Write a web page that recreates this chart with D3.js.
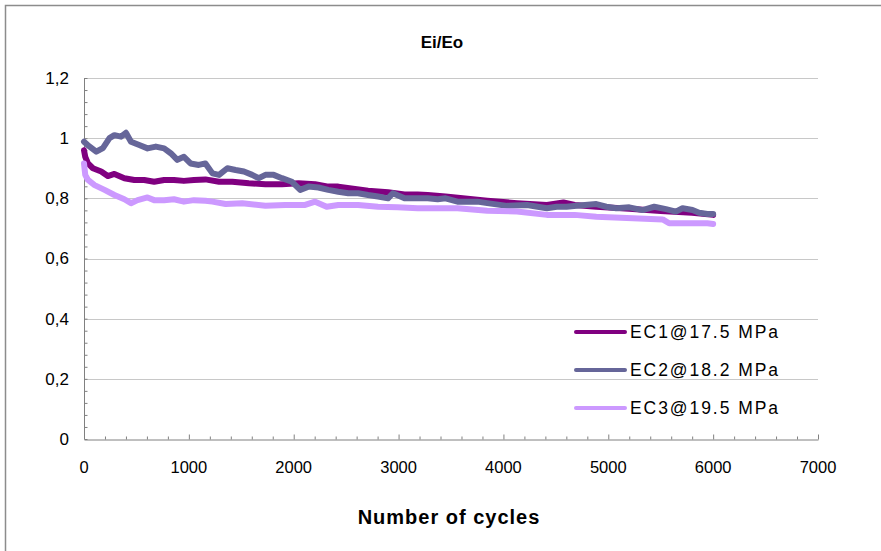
<!DOCTYPE html>
<html>
<head>
<meta charset="utf-8">
<script src="https://cdn.jsdelivr.net/npm/d3@7"></script>
<style>
  html, body { margin: 0; padding: 0; background: #fff; }
  svg { display: block; }
  text { font-family: "Liberation Sans", Arial, sans-serif; fill: #000; }
</style>
</head>
<body>
<svg id="chart" width="881" height="551"></svg>
<script>
// ---- data ----
const seriesNames = ["EC1@17.5 MPa", "EC2@18.2 MPa", "EC3@19.5 MPa"];
const seriesColors = ["#800080", "#666699", "#CC99FF"];

const ec1Cycles = [0, 12, 38, 85, 164, 227, 290, 385, 480, 574, 669, 764, 858, 953, 1048, 1158, 1288, 1414, 1572, 1730, 1888, 2045, 2204, 2330, 2425, 2709, 2900, 3057, 3183, 3278, 3448, 3846, 4130, 4414, 4572, 4680, 4886, 5200, 5500, 5800, 6000];
const ec1Values = [0.96, 0.938, 0.916, 0.90, 0.889, 0.874, 0.881, 0.867, 0.861, 0.861, 0.855, 0.861, 0.861, 0.858, 0.861, 0.863, 0.855, 0.855, 0.85, 0.847, 0.847, 0.85, 0.847, 0.839, 0.839, 0.825, 0.82, 0.813, 0.813, 0.811, 0.806, 0.792, 0.784, 0.778, 0.786, 0.778, 0.772, 0.765, 0.758, 0.752, 0.745];

const ec2Cycles = [0, 35, 117, 180, 243, 290, 353, 400, 448, 527, 606, 685, 764, 827, 890, 953, 1016, 1095, 1158, 1225, 1288, 1367, 1446, 1525, 1604, 1667, 1730, 1809, 1888, 1983, 2062, 2141, 2236, 2330, 2425, 2520, 2614, 2709, 2804, 2899, 2946, 3057, 3183, 3278, 3373, 3448, 3562, 3751, 3846, 4035, 4225, 4414, 4508, 4602, 4697, 4886, 4981, 5076, 5200, 5327, 5438, 5550, 5645, 5708, 5803, 5866, 5945, 6000];
const ec2Values = [0.988, 0.977, 0.955, 0.967, 1.0, 1.01, 1.005, 1.018, 0.988, 0.977, 0.966, 0.972, 0.966, 0.95, 0.928, 0.938, 0.916, 0.911, 0.916, 0.883, 0.878, 0.90, 0.894, 0.889, 0.878, 0.867, 0.878, 0.878, 0.867, 0.855, 0.828, 0.839, 0.836, 0.828, 0.822, 0.817, 0.817, 0.811, 0.806, 0.80, 0.817, 0.80, 0.80, 0.80, 0.797, 0.80, 0.789, 0.789, 0.784, 0.775, 0.778, 0.767, 0.772, 0.772, 0.775, 0.781, 0.772, 0.767, 0.770, 0.761, 0.772, 0.764, 0.756, 0.767, 0.761, 0.752, 0.748, 0.748];

const ec3Cycles = [0, 12, 38, 101, 196, 290, 385, 448, 511, 606, 669, 764, 858, 953, 1048, 1158, 1225, 1351, 1509, 1730, 1919, 2109, 2204, 2314, 2425, 2614, 2804, 2990, 3183, 3448, 3562, 3846, 4130, 4414, 4680, 4886, 5235, 5519, 5580, 5740, 5945, 6000];
const ec3Values = [0.916, 0.878, 0.861, 0.844, 0.828, 0.811, 0.797, 0.784, 0.794, 0.803, 0.794, 0.794, 0.797, 0.789, 0.794, 0.792, 0.789, 0.781, 0.784, 0.775, 0.778, 0.778, 0.789, 0.772, 0.778, 0.778, 0.772, 0.770, 0.767, 0.767, 0.767, 0.759, 0.756, 0.745, 0.745, 0.739, 0.734, 0.730, 0.717, 0.717, 0.717, 0.715];

const xTicks = [0, 1000, 2000, 3000, 4000, 5000, 6000, 7000];
const yTicks = [0, 0.2, 0.4, 0.6, 0.8, 1, 1.2];
const yTickLabels = ["0", "0,2", "0,4", "0,6", "0,8", "1", "1,2"];
const chartTitle = "Ei/Eo";
const xTitle = "Number of cycles";

// ---- drawing ----
const svg = d3.select("#chart");
const plotLeft = 84, plotRight = 818, plotTop = 78, plotBottom = 439;

const x = d3.scaleLinear().domain([0, 7000]).range([plotLeft, plotRight]);
const y = d3.scaleLinear().domain([0, 1.2]).range([plotBottom, plotTop]);

// outer chart border
svg.append("rect")
  .attr("x", 5.5).attr("y", 5.5).attr("width", 1000).attr("height", 1000)
  .attr("fill", "none").attr("stroke", "#8c8c8c").attr("stroke-width", 1.5);

// gridlines
svg.append("g").selectAll("line")
  .data(yTicks.filter(d => d > 0))
  .join("line")
  .attr("x1", plotLeft).attr("x2", plotRight)
  .attr("y1", d => Math.round(y(d)) + 0.5).attr("y2", d => Math.round(y(d)) + 0.5)
  .attr("stroke", "#c8c8c8").attr("stroke-width", 1);

// y axis (ticks inside)
const yMinor = d3.range(0, 1.2001, 0.04);
const yAxis = d3.axisRight(y).tickValues(yMinor).tickSize(3).tickFormat("");
const gy = svg.append("g").attr("transform", `translate(${plotLeft + 0.5},0)`).call(yAxis);
gy.select(".domain").attr("stroke", "#808080").attr("d", `M0,${plotTop}V${plotBottom}`);
gy.selectAll(".tick line").attr("stroke", "#808080");

// x axis (ticks inside)
const xMinor = d3.range(0, 7001, 200);
const xAxis = d3.axisTop(x).tickValues(xMinor).tickSizeInner(3).tickSizeOuter(0).tickFormat("");
const gx = svg.append("g").attr("transform", `translate(0,${plotBottom + 0.5})`).call(xAxis);
gx.select(".domain").attr("stroke", "#808080");
gx.selectAll(".tick line").attr("stroke", "#808080")
  .attr("y2", d => (d % 1000 === 0 ? -5 : -3));

// tick labels
svg.append("g").selectAll("text")
  .data(yTicks)
  .join("text")
  .attr("x", 69).attr("y", d => y(d))
  .attr("dy", "0.35em").attr("text-anchor", "end")
  .attr("font-size", 17)
  .text((d, i) => yTickLabels[i]);

svg.append("g").selectAll("text")
  .data(xTicks)
  .join("text")
  .attr("x", d => x(d)).attr("y", 467)
  .attr("dy", "0.35em").attr("text-anchor", "middle")
  .attr("font-size", 16.5)
  .text(d => String(d));

// titles
svg.append("text").attr("x", 442).attr("y", 42).attr("dy", "0.35em")
  .attr("text-anchor", "middle").attr("font-size", 17).attr("font-weight", "bold")
  .text(chartTitle);
svg.append("text").attr("x", 449).attr("y", 517).attr("dy", "0.35em")
  .attr("text-anchor", "middle").attr("font-size", 20).attr("font-weight", "bold")
  .attr("letter-spacing", 1)
  .text(xTitle);

// series lines
const series = [
  { cycles: ec1Cycles, values: ec1Values },
  { cycles: ec2Cycles, values: ec2Values },
  { cycles: ec3Cycles, values: ec3Values }
];
const line = d3.line().x(d => x(d[0])).y(d => y(d[1]));
series.forEach((s, i) => {
  const pts = s.cycles.map((c, k) => [c, s.values[k]]);
  svg.append("path")
    .datum(pts)
    .attr("d", line)
    .attr("fill", "none")
    .attr("stroke", seriesColors[i])
    .attr("stroke-width", 6)
    .attr("stroke-linejoin", "round")
    .attr("stroke-linecap", "round");
});

// legend
const legendY = [332, 370, 408];
const lg = svg.append("g");
seriesNames.forEach((name, i) => {
  lg.append("line")
    .attr("x1", 576).attr("x2", 625)
    .attr("y1", legendY[i]).attr("y2", legendY[i])
    .attr("stroke", seriesColors[i]).attr("stroke-width", 4)
    .attr("stroke-linecap", "round");
  lg.append("text")
    .attr("x", 630).attr("y", legendY[i]).attr("dy", "0.35em")
    .attr("font-size", 17.5)
    .attr("textLength", 148).attr("lengthAdjust", "spacing")
    .text(name);
});
</script>
</body>
</html>
